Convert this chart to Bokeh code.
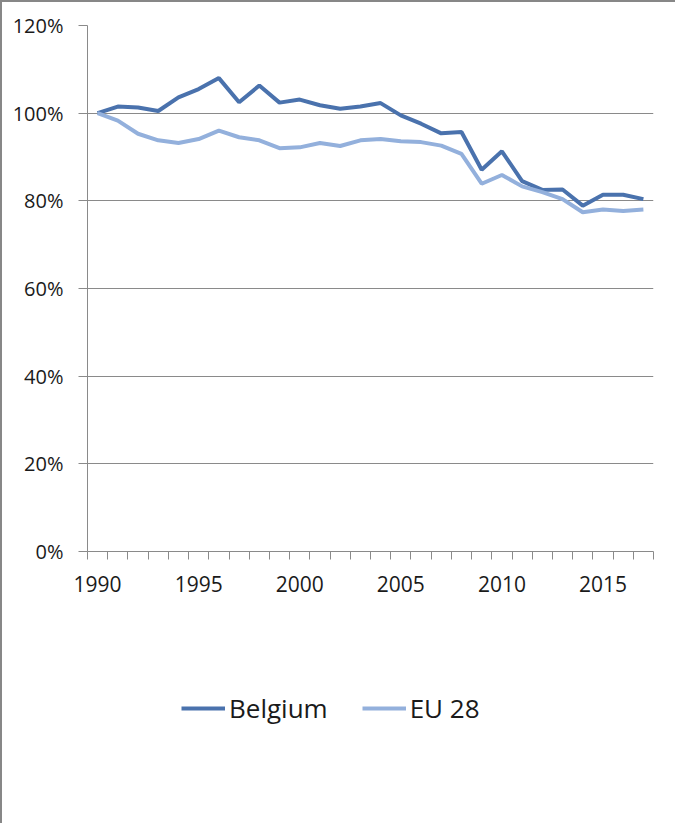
from bokeh.plotting import figure
from bokeh.layouts import column
from bokeh.models import Range1d, FixedTicker, Legend, LegendItem, ColumnDataSource
from bokeh.embed import file_html
from bokeh.resources import INLINE

years = list(range(1990, 2018))
belgium = [100.0, 101.5, 101.3, 100.5, 103.6, 105.5, 108.0, 102.5, 106.3, 102.4,
           103.1, 101.8, 101.0, 101.5, 102.3, 99.5, 97.6, 95.4, 95.7, 87.1,
           91.3, 84.5, 82.5, 82.6, 78.9, 81.4, 81.4, 80.4]
eu28 = [100.0, 98.3, 95.3, 93.8, 93.2, 94.1, 96.0, 94.5, 93.8, 92.0,
        92.2, 93.2, 92.5, 93.8, 94.1, 93.6, 93.4, 92.6, 90.7, 83.9,
        85.9, 83.3, 82.0, 80.4, 77.4, 78.0, 77.7, 78.0]
series_names = ["Belgium", "EU 28"]
x_tick_years = [1990, 1995, 2000, 2005, 2010, 2015]
y_ticks = [0, 20, 40, 60, 80, 100, 120]

FONT = "Open Sans"
BEL_COLOR = "#4a72ad"
EU_COLOR = "#93b0dc"
GRID = "#8a8a8a"
TXT = "#1a1a1a"

xpos = [i + 0.5 for i in range(len(years))]
src = ColumnDataSource(dict(x=xpos, bel=belgium, eu=eu28))

W = 673
H_MAIN = 620
H_LEG = 201

p = figure(width=W, height=H_MAIN, output_backend="svg", toolbar_location=None,
           x_range=Range1d(0, len(years)), y_range=Range1d(0, 120),
           min_border_left=85, min_border_right=22, min_border_top=23,
           min_border_bottom=H_MAIN - 23 - 526)
p.outline_line_color = None
p.background_fill_color = "white"
p.border_fill_color = "white"

p.line("x", "bel", source=src, line_color=BEL_COLOR, line_width=4)
p.line("x", "eu", source=src, line_color=EU_COLOR, line_width=4)

# x axis: categories with ticks between categories
xt = [years.index(y) + 0.5 for y in x_tick_years]
p.xaxis.ticker = FixedTicker(ticks=xt, minor_ticks=list(range(len(years) + 1)))
p.xaxis.major_label_overrides = {v: str(y) for v, y in zip(xt, x_tick_years)}
p.xaxis.major_tick_out = 0
p.xaxis.major_tick_in = 0
p.xaxis.minor_tick_out = 8
p.xaxis.minor_tick_in = 0
p.xaxis.minor_tick_line_color = GRID
p.xaxis.axis_line_color = GRID
p.xaxis.major_label_standoff = 16
p.xgrid.grid_line_color = None

p.yaxis.ticker = FixedTicker(ticks=y_ticks)
p.yaxis.major_label_overrides = {v: f"{v}%" for v in y_ticks}
p.yaxis.major_tick_out = 9
p.yaxis.major_tick_in = 0
p.yaxis.minor_tick_line_color = None
p.yaxis.major_tick_line_color = GRID
p.yaxis.axis_line_color = GRID
p.yaxis.major_label_standoff = 15
p.ygrid.grid_line_color = GRID
p.ygrid.grid_line_width = 1

p.xaxis.major_label_text_font_size = "21px"
p.yaxis.major_label_text_font_size = "20px"
for ax in (p.xaxis, p.yaxis):
    ax.major_label_text_font = FONT
    ax.major_label_text_color = TXT

# legend figure below the chart (its lines lie outside its visible range)
p2 = figure(width=W, height=H_LEG, output_backend="svg", toolbar_location=None,
            x_range=Range1d(0, 1), y_range=Range1d(0, 1),
            x_axis_type=None, y_axis_type=None,
            min_border_left=0, min_border_right=0, min_border_top=0, min_border_bottom=0)
p2.outline_line_color = None
p2.xgrid.grid_line_color = None
p2.ygrid.grid_line_color = None
p2.border_fill_color = "white"
hidden = ColumnDataSource(dict(x=[-5.0, -4.0], y=[-5.0, -4.0]))
lb = p2.line("x", "y", source=hidden, line_color=BEL_COLOR, line_width=4)
le = p2.line("x", "y", source=hidden, line_color=EU_COLOR, line_width=4)

legend = Legend(items=[LegendItem(label=series_names[0], renderers=[lb]),
                       LegendItem(label=series_names[1], renderers=[le])],
                location=(94, 97), orientation="horizontal")
legend.label_text_font = FONT
legend.label_text_font_size = "26px"
legend.label_text_color = TXT
legend.glyph_width = 44
legend.label_standoff = 4
legend.spacing = 34
legend.padding = 0
legend.margin = 0
legend.border_line_color = None
legend.background_fill_alpha = 0
p2.add_layout(legend, "center")

layout = column(p, p2, spacing=0)
layout.styles = {"border-left": "2px solid #878787", "border-top": "2px solid #878787"}

open("out.html", "w").write(file_html(layout, INLINE))
